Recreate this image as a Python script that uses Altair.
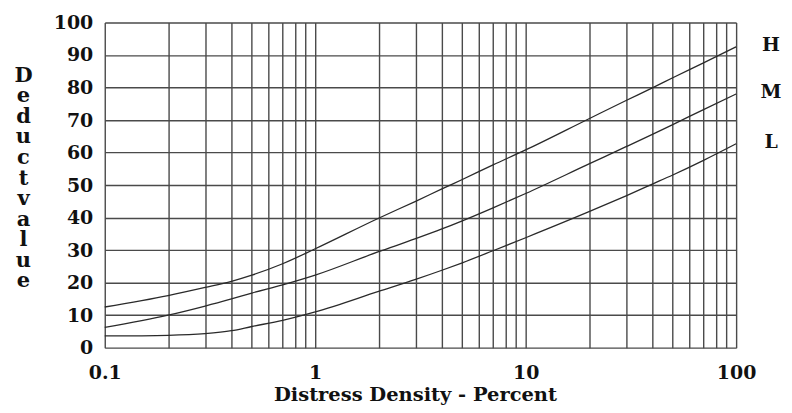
import altair as alt
import pandas as pd

# Distress density (percent) at which the curves were read
density = [0.1, 0.2, 0.3, 0.4, 0.5, 0.7, 1, 2, 3, 4, 5, 7, 10, 20, 30, 40, 50, 70, 100]
# Deduct values for each severity level
high = [12.5, 16, 18.5, 20.4, 22.3, 25.8, 30.4, 39.8, 45, 48.8, 51.7, 56.2, 60.8, 70.4, 76, 79.9, 83, 87.6, 92.5]
medium = [6.2, 10, 12.8, 15, 16.8, 19.3, 22.3, 29.5, 33.5, 36.5, 39, 43, 47.4, 56.5, 61.8, 65.6, 68.6, 73.2, 78]
low = [3.6, 3.8, 4.3, 5.2, 6.5, 8.4, 11, 17.3, 21, 23.8, 26.1, 29.8, 33.8, 41.8, 46.7, 50.3, 53.1, 57.6, 62.7]
series_names = ["H", "M", "L"]

x_grid = [0.1, 0.2, 0.3, 0.4, 0.5, 0.6, 0.7, 0.8, 0.9,
          1, 2, 3, 4, 5, 6, 7, 8, 9,
          10, 20, 30, 40, 50, 60, 70, 80, 90, 100]
x_labels = [0.1, 1, 10, 100]
y_ticks = [0, 10, 20, 30, 40, 50, 60, 70, 80, 90, 100]
y_title = ["D", "e", "d", "u", "c", "t", "v", "a", "l", "u", "e"]

rows = []
for name, vals in zip(series_names, [high, medium, low]):
    for d, v in zip(density, vals):
        rows.append({"density": d, "deduct": v, "severity": name})
df = pd.DataFrame(rows)

end_df = pd.DataFrame({
    "severity": series_names,
    "deduct": [high[-1], medium[-1], low[-1]],
})

FONT = "DejaVu Serif"
label_test = " || ".join(f"datum.value == {v}" for v in x_labels)

x_enc = alt.X(
    "density:Q",
    scale=alt.Scale(type="log", domain=[0.1, 100], nice=False),
    axis=alt.Axis(
        values=x_grid,
        format="~g",
        labelExpr=f"({label_test}) ? datum.label : ''",
        title="Distress Density - Percent",
        titleX=311,
        titleY=52.5,
        titleBaseline="alphabetic",
        titleFontSize=19.5,
        ticks=False,
        domain=False,
        labelPadding=16,
        labelFlush=False,
        labelOverlap=False,
    ),
)
y_axis = alt.Axis(
    values=y_ticks,
    title=y_title,
    titleAngle=0,
    titleAlign="center",
    titleBaseline="alphabetic",
    titleX=-82,
    titleY=59,
    titleLineHeight=20.6,
    titleFontSize=21,
    ticks=False,
    domain=False,
    labelPadding=12,
    labelOverlap=False,
    labelFlush=False,
)
y_scale = alt.Scale(domain=[0, 100], nice=False)

lines = alt.Chart(df).mark_line(
    interpolate="monotone", color="#2a2a2a", strokeWidth=1.3
).encode(
    x=x_enc,
    y=alt.Y("deduct:Q", scale=y_scale, axis=y_axis),
    detail="severity:N",
)

labels = alt.Chart(end_df).mark_text(
    font=FONT, fontWeight="bold", fontSize=19, color="#111",
    align="center", baseline="middle", dy=-2,
).encode(
    x=alt.value(668),
    y=alt.Y("deduct:Q", scale=y_scale, axis=y_axis),
    text="severity:N",
)

chart = alt.layer(lines, labels).properties(
    width=633,
    height=326,
    padding={"left": 97, "top": 14, "right": 48, "bottom": 57},
    autosize="none",
    background="white",
).configure_view(
    stroke=None
).configure_axis(
    grid=True,
    gridColor="#4a4a4a",
    gridWidth=1.4,
    gridOpacity=1,
    labelFont=FONT,
    labelFontWeight="bold",
    labelFontSize=19,
    labelColor="#111",
    titleFont=FONT,
    titleFontWeight="bold",
    titleFontSize=19,
    titleColor="#111",
)

chart.save("out.html", embed_options={"renderer": "svg", "actions": False})
